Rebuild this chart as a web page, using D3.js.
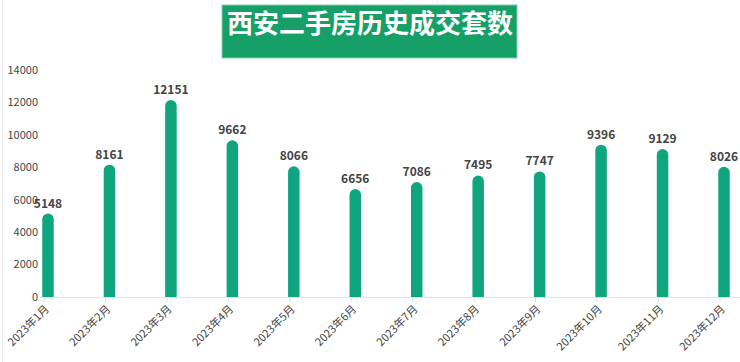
<!DOCTYPE html>
<html>
<head>
<meta charset="utf-8">
<script src="https://cdn.jsdelivr.net/npm/d3@7"></script>
<style>
body{margin:0;background:#fff;}
svg{display:block;font-family:"Noto Sans CJK SC","Noto Sans",sans-serif;}
</style>
</head>
<body>
<svg id="svg" width="740" height="362"></svg>
<script>
var months=["2023年1月","2023年2月","2023年3月","2023年4月","2023年5月","2023年6月","2023年7月","2023年8月","2023年9月","2023年10月","2023年11月","2023年12月"];
var deals=[5148,8161,12151,9662,8066,6656,7086,7495,7747,9396,9129,8026];
var yTicks=[0,2000,4000,6000,8000,10000,12000,14000];
var title="西安二手房历史成交套数";

var barColor="#0fa67f";
var svg=d3.select("#svg");

// band range picked so first/last bar centres land near 48 and 724
var x=d3.scaleBand().domain(months).range([42.25,729.75]).paddingInner(0.813).paddingOuter(0);
var y=d3.scaleLinear().domain([0,14000]).range([297,70]);

// faint left border
svg.append("line").attr("x1",2.5).attr("x2",2.5).attr("y1",0).attr("y2",362)
    .attr("stroke","#eeeeee")

// title box
svg.append("rect").attr("x",222).attr("y",5).attr("width",295).attr("height",53)
    .attr("fill","#16a068").attr("stroke","#7fd0a9").attr("stroke-width",1)
svg.append("text").attr("x",370).attr("y",33).attr("text-anchor","middle")
    .attr("fill","#fff").style("font-size","26px").style("font-weight","bold")
    .text(title)

// y axis labels
svg.append("g").selectAll("text").data(yTicks).enter().append("text")
    .attr("x",38).attr("y",d=>y(d)).attr("dy","0.35em")
    .attr("text-anchor","end").attr("fill","#444")
    .style("font-size","11px")
    .text(d=>d)

// x axis
var xAxis=svg.append("g").attr("transform","translate(0,"+y(0)+")")
    .call(d3.axisBottom(x).tickSize(5).tickSizeOuter(0))
xAxis.select(".domain").attr("stroke","#e4e4e4").attr("d","M40,0.5H740")
xAxis.selectAll(".tick line").attr("stroke","#dddddd").attr("transform","translate(-4,0)")
xAxis.selectAll(".tick text")
    .attr("fill","#444").style("font-size","11px").style("font-family","'Noto Sans CJK SC',sans-serif")
    .attr("text-anchor","end")
    .attr("transform","translate(-1,10) rotate(-45)")
    .attr("dy","0.35em").attr("y",0).attr("x",0)

// bars with rounded tops
var r=x.bandwidth()/2;
svg.append("g").selectAll("path").data(deals).enter().append("path")
    .attr("fill",barColor)
    .attr("d",(d,i)=>{
        var x0=x(months[i]), w=x.bandwidth(), top=y(d), base=y(0);
        return "M"+x0+","+base+"V"+(top+r)+"A"+r+","+r+" 0 0 1 "+(x0+w)+","+(top+r)+"V"+base+"Z";
    })

// value labels
svg.append("g").selectAll("text").data(deals).enter().append("text")
    .attr("x",(d,i)=>x(months[i])+x.bandwidth()/2)
    .attr("y",d=>y(d)-6)
    .attr("text-anchor","middle").attr("fill","#444")
    .style("font-size","12px").style("font-weight","bold")
    .text(d=>d)
</script>
</body>
</html>
